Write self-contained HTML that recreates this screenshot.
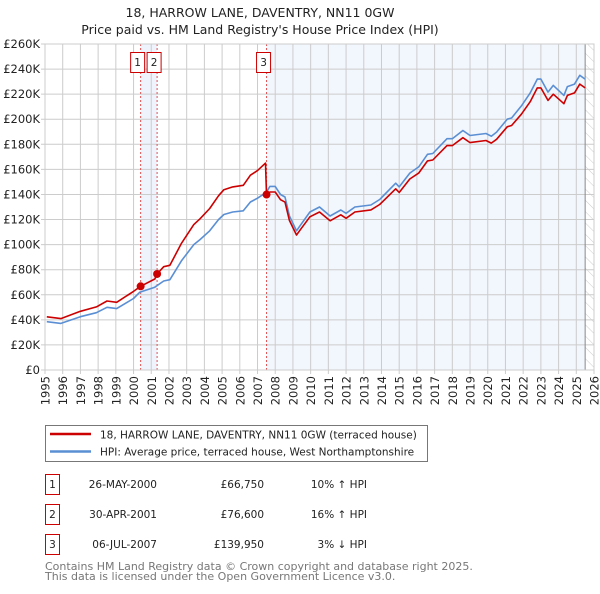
<!DOCTYPE html>
<html><head><meta charset="utf-8">
<style>
body{margin:0;background:#fff;font-family:"DejaVu Sans","Liberation Sans",sans-serif;}
svg text{font-family:"DejaVu Sans","Liberation Sans",sans-serif;}
</style></head>
<body>
<svg id="chart" width="600" height="590" viewBox="0 0 600 590" xmlns="http://www.w3.org/2000/svg">
<defs>
<pattern id="hatch" patternUnits="userSpaceOnUse" width="8" height="8" patternTransform="rotate(-45)">
<line x1="0" y1="0" x2="0" y2="8" stroke="#ccc" stroke-width="1"/>
</pattern>
</defs>
<text x="260" y="17" font-size="12.5" text-anchor="middle" fill="#222">18, HARROW LANE, DAVENTRY, NN11 0GW</text>
<text x="260" y="34" font-size="12.5" text-anchor="middle" fill="#222">Price paid vs. HM Land Registry's House Price Index (HPI)</text>
<g id="plot"></g>
<g>
<rect x="45.5" y="425.5" width="382" height="36" fill="#fff" stroke="#777"/>
<line x1="50" y1="434" x2="91" y2="434" stroke="#cc0000" stroke-width="2.5"/>
<text x="100" y="438.5" font-size="10.5" fill="#222">18, HARROW LANE, DAVENTRY, NN11 0GW (terraced house)</text>
<line x1="50" y1="451.5" x2="91" y2="451.5" stroke="#5b8fd4" stroke-width="2.5"/>
<text x="100" y="455.5" font-size="10.5" fill="#222">HPI: Average price, terraced house, West Northamptonshire</text>
</g>
<g id="table" font-size="10.5" fill="#222"></g>
<text x="45" y="570" font-size="11" fill="#777">Contains HM Land Registry data © Crown copyright and database right 2025.</text>
<text x="45" y="580" font-size="11" fill="#777">This data is licensed under the Open Government Licence v3.0.</text>
</svg>
<script>
const hpiYears=[1995.1,1995.9,1997.0,1997.9,1998.5,1999.05,2000.0,2000.35,2001.2,2001.7,2002.05,2002.7,2003.4,2003.75,2004.3,2004.8,2005.1,2005.6,2006.2,2006.6,2007.0,2007.5,2007.7,2008.0,2008.3,2008.55,2008.8,2009.2,2009.4,2009.96,2010.5,2011.1,2011.7,2012.0,2012.5,2013.4,2013.9,2014.8,2015.0,2015.6,2016.1,2016.6,2016.9,2017.7,2018.0,2018.6,2019.0,2019.9,2020.2,2020.5,2021.1,2021.35,2021.9,2022.4,2022.8,2023.0,2023.4,2023.7,2024.3,2024.5,2024.9,2025.2,2025.5];
const hpiValues=[38.5,37.2,42.5,45.7,50,49,57,62,66,71,72,87,100,104,111,120,124,126,127,134,137,141.7,146.4,146.4,140,138,123,111,115,126,130,122.8,127.6,125,130,131.6,136,149,146,157,162,172,172.7,184.5,184.5,191,187,188.6,186.5,189.7,200,201,210.6,221,232,232,221.6,227,219,226,228,235,232];
const priceYears=[1995.1,1995.9,1997.0,1997.9,1998.5,1999.05,2000.0,2000.4,2001.2,2001.33,2001.7,2002.05,2002.7,2003.4,2003.75,2004.3,2004.8,2005.1,2005.6,2006.2,2006.6,2007.0,2007.45,2007.51,2007.7,2008.0,2008.3,2008.55,2008.8,2009.2,2009.4,2009.96,2010.5,2011.1,2011.7,2012.0,2012.5,2013.4,2013.9,2014.8,2015.0,2015.6,2016.1,2016.6,2016.9,2017.7,2018.0,2018.6,2019.0,2019.9,2020.2,2020.5,2021.1,2021.35,2021.9,2022.4,2022.8,2023.0,2023.4,2023.7,2024.3,2024.5,2024.9,2025.2,2025.5];
const priceValues=[42.4,41,46.8,50.3,55,54,62.7,66.75,72.6,76.6,82.4,83.5,101,116,120.6,128.8,139,143.8,146,147.3,155.4,159,165,139.95,142,142,135.8,133.9,119.3,107.7,111.5,122.2,126,119,123.8,121,126,127.7,132,144.5,141.6,152.3,157,166.8,167.5,179,179,185.3,181.4,183,181,184,194,195,204,214,225,225,215,220,212.4,219,221,228,225];
const saleLabels=["1","2","3"];
const saleYears=[2000.4,2001.33,2007.51];
const saleValues=[66.75,76.6,139.95];
const saleDates=["26-MAY-2000","30-APR-2001","06-JUL-2007"];
const salePrices=["£66,750","£76,600","£139,950"];
const saleHpi=["10% ↑ HPI","16% ↑ HPI","3% ↓ HPI"];
const yTicks=[0,20,40,60,80,100,120,140,160,180,200,220,240,260];
const xTicks=[1995,1996,1997,1998,1999,2000,2001,2002,2003,2004,2005,2006,2007,2008,2009,2010,2011,2012,2013,2014,2015,2016,2017,2018,2019,2020,2021,2022,2023,2024,2025,2026];
const dataEnd=2025.5;

const NS="http://www.w3.org/2000/svg";
const X0=45,X1=594,Y0=370,Y1=44;
const xs=y=>X0+(y-1995)/(2026-1995)*(X1-X0);
const ys=v=>Y0-v/260*(Y0-Y1);
const plot=document.getElementById('plot');
function mk(tag,attrs,parent){const e=document.createElementNS(NS,tag);for(const k in attrs)e.setAttribute(k,attrs[k]);(parent||plot).appendChild(e);return e;}

let r=mk('rect',{x:X0,y:Y1,width:X1-X0,height:Y0-Y1,fill:'#fff'});


r=mk('rect',{x:xs(saleYears[0]),y:Y1,width:xs(saleYears[1])-xs(saleYears[0]),height:Y0-Y1,fill:'#eef3fc'});


r=mk('rect',{x:xs(saleYears[2]),y:Y1,width:xs(dataEnd)-xs(saleYears[2]),height:Y0-Y1,fill:'#f2f6fd'});


r=mk('rect',{x:xs(dataEnd),y:Y1,width:X1-xs(dataEnd),height:Y0-Y1,fill:'url(#hatch)'});



xTicks.forEach(t=>{
  const l=mk('line',{x1:xs(t),x2:xs(t),y1:Y1,y2:Y0+4,stroke:'#ccc','stroke-width':1});
  
  
  const tx=mk('text',{x:0,y:0,transform:`translate(${xs(t)+4.5},${Y0+6}) rotate(-90)`,'font-size':'11.5','text-anchor':'end',fill:'#222'});
  tx.textContent=t;
  
  
});
yTicks.forEach(t=>{
  const l=mk('line',{x1:X0-4,x2:X1,y1:ys(t),y2:ys(t),stroke:'#ccc','stroke-width':1});
  
  
  const tx=mk('text',{x:X0-5,y:ys(t)+4,'font-size':'11.5','text-anchor':'end',fill:'#222'});
  tx.textContent=t===0?'£0':'£'+t+'K';
  
  
});
let el=mk('line',{x1:xs(dataEnd),x2:xs(dataEnd),y1:Y1,y2:Y0,stroke:'#888','stroke-width':1});



saleYears.forEach((y,i)=>{
  const l=mk('line',{x1:xs(y),x2:xs(y),y1:Y1,y2:Y0,stroke:'#e05050','stroke-width':1,'stroke-dasharray':'2,2'});
  
  
});

const pathOf=(xa,va)=>xa.map((y,i)=>(i?'L':'M')+xs(y).toFixed(1)+','+ys(va[i]).toFixed(1)).join('');
el=mk('path',{d:pathOf(hpiYears,hpiValues),fill:'none',stroke:'#5b8fd4','stroke-width':1.6,'stroke-linejoin':'round'});


el=mk('path',{d:pathOf(priceYears,priceValues),fill:'none',stroke:'#cc0000','stroke-width':1.6,'stroke-linejoin':'round'});



saleYears.forEach((y,i)=>{
  const c=mk('circle',{cx:xs(y),cy:ys(saleValues[i]),r:4,fill:'#cc0000'});
  
  
  const bx=xs(y)-3;
  const b=mk('rect',{x:bx-7,y:52.5,width:14,height:20,fill:'#fff',stroke:'#cc0000','stroke-width':1});
  
  
  const t=mk('text',{x:bx,y:66,'font-size':'10.5','text-anchor':'middle',fill:'#222'});
  t.textContent=saleLabels[i];
  
  
});
el=mk('rect',{x:X0,y:Y1,width:X1-X0,height:Y0-Y1,fill:'none',stroke:'#ccc'});



const tbl=document.getElementById('table');
saleLabels.forEach((s,i)=>{
  const yy=483+i*30;
  const b=mk('rect',{x:45.5,y:yy-8.5,width:14,height:20,fill:'#fff',stroke:'#cc0000'},tbl);
  
  
  const items=[[52.5,s,'middle','table-sale-number'],[157,saleDates[i],'end','table-sale-date'],[264,salePrices[i],'end','table-sale-price'],[367,saleHpi[i],'end','table-sale-hpi']];
  items.forEach(([x,txt,anc,nm])=>{
    const t=mk('text',{x:x,y:yy+5,'text-anchor':anc},tbl);
    t.textContent=txt;
    
    
  });
});
</script>
</body></html>
